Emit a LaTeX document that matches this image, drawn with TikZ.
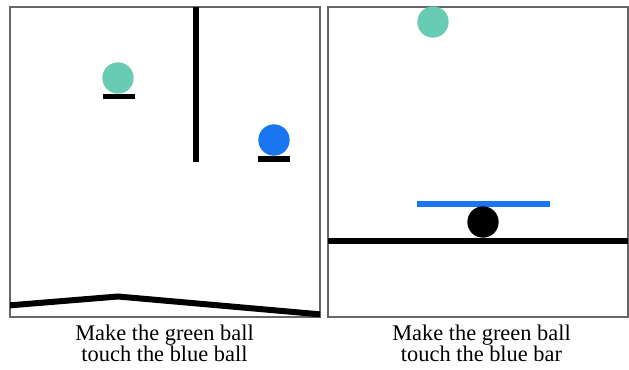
\documentclass[tikz,border=0pt]{standalone}
\usepackage{fontspec}
\setmainfont{Liberation Serif}
\definecolor{ballgreen}{RGB}{104,204,181}
\definecolor{ballblue}{RGB}{26,118,240}

\begin{document}
\begin{tikzpicture}[
	x=0.75pt, y=-0.75pt,
	panel/.style={draw=black!60, line width=0.9pt},
	ball/.style={
		circle,
		inner sep=0pt,
		minimum size=23.5pt
	},
	bar/.style={line width=4pt},
	wall/.style={line width=4.5pt},
	caption/.style={
		align=center,
		anchor=north,
		inner sep=0pt,
		font=\fontsize{16.8}{16}\selectfont
	}
]
\useasboundingbox (0,0) rectangle (629,369);

\draw[panel] (10,7) rectangle (320,317);
\node[ball, fill=ballgreen] (greenL) at (118,78) {};
\draw[bar] (103,96.5) -- (135,96.5);
\draw[wall] (196,7) -- (196,162);
\node[ball, fill=ballblue] (blueL) at (274,140) {};
\draw[bar] (258,159) -- (290,159);
\begin{scope}
	\clip (10,7) rectangle (320,317);
	\draw[wall] (8,305.5) -- (118,296.5) -- (322,314.5);
\end{scope}
\node[caption] (capL) at (164.5,324.5) {Make the green ball\\touch the blue ball};

\draw[panel] (328,7) rectangle (628,317);
\node[ball, fill=ballgreen] (greenR) at (433,22) {};
\draw[bar, ballblue] (417,204) -- (550,204);
\node[ball, fill=black] (blackR) at (483,222) {};
\draw[wall] (328,240.5) -- (628,240.5);
\node[caption] (capR) at (481.5,324.5) {Make the green ball\\touch the blue bar};
\end{tikzpicture}
\end{document}
